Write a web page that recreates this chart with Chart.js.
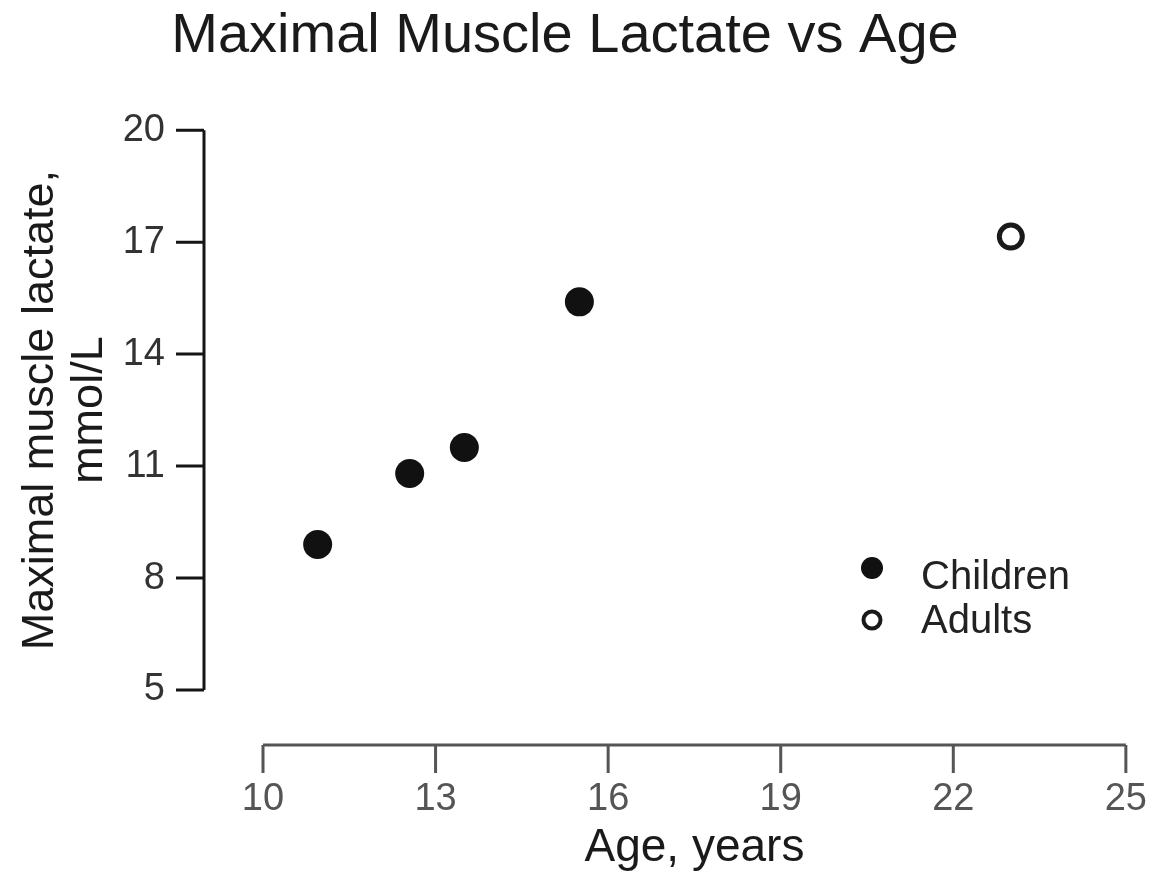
<!DOCTYPE html>
<html>
<head>
<meta charset="utf-8">
<title>Maximal Muscle Lactate vs Age</title>
<script src="https://cdn.jsdelivr.net/npm/chart.js@4/dist/chart.umd.min.js"></script>
<style>
  html, body { margin: 0; padding: 0; background: #fff; }
  #wrap { width: 1151px; height: 878px; }
</style>
</head>
<body>
<div id="wrap"><canvas id="lactateChart"></canvas></div>
<script>
const FONT = "'Liberation Sans', Arial, Helvetica, sans-serif";

const childAges = [10.95, 12.55, 13.5, 15.5];
const childLactate = [8.9, 10.8, 11.5, 15.4];
const adultAges = [23.0];
const adultLactate = [17.15];

const xTicks = [10, 13, 16, 19, 22, 25];
const yTicks = [5, 8, 11, 14, 17, 20];

const seriesNames = ['Children', 'Adults'];

function toPoints(xs, ys){
    return xs.map((x, i) => ({ x: x, y: ys[i] }));
}

// axes are drawn detached from the plot area, like a classic journal figure
const AXIS_GAP_Y = 59;   // y axis sits this far left of the plot area
const AXIS_GAP_X = 55;   // x axis sits this far below the plot area
const TICK_LEN = 28;

const detachedAxes = {
    id: 'detachedAxes',
    afterDraw(chart){
        const { ctx, chartArea, scales } = chart;
        const xs = scales.x, ys = scales.y;
        ctx.save();
        ctx.lineCap = 'butt';

        // y axis
        const ax = chartArea.left - AXIS_GAP_Y;
        ctx.strokeStyle = '#151515';
        ctx.lineWidth = 3;
        ctx.beginPath();
        ctx.moveTo(ax, ys.getPixelForValue(yTicks[0]));
        ctx.lineTo(ax, ys.getPixelForValue(yTicks[yTicks.length - 1]));
        yTicks.forEach(v => {
            const py = ys.getPixelForValue(v);
            ctx.moveTo(ax - TICK_LEN, py);
            ctx.lineTo(ax, py);
        });
        ctx.stroke();

        // x axis
        const ay = chartArea.bottom + AXIS_GAP_X;
        ctx.strokeStyle = '#555';
        ctx.beginPath();
        ctx.moveTo(xs.getPixelForValue(xTicks[0]), ay);
        ctx.lineTo(xs.getPixelForValue(xTicks[xTicks.length - 1]), ay);
        xTicks.forEach(v => {
            const px = xs.getPixelForValue(v);
            ctx.moveTo(px, ay);
            ctx.lineTo(px, ay + TICK_LEN);
        });
        ctx.stroke();
        ctx.restore();
    }
};

// small legend placed inside the plot, lower right
const innerLegend = {
    id: 'innerLegend',
    afterDraw(chart){
        const { ctx } = chart;
        const x0 = 872, y0 = 568, rowH = 52;
        ctx.save();
        chart.data.datasets.forEach((ds, i) => {
            const cy = y0 + i * rowH;
            ctx.beginPath();
            if(i === 0){
                ctx.arc(x0, cy, 11, 0, Math.PI * 2);
                ctx.fillStyle = ds.backgroundColor;
                ctx.fill();
            } else {
                ctx.arc(x0, cy, 8.5, 0, Math.PI * 2);
                ctx.fillStyle = '#fff';
                ctx.fill();
                ctx.lineWidth = 4;
                ctx.strokeStyle = ds.borderColor;
                ctx.stroke();
            }
            ctx.font = '40px ' + FONT;
            ctx.fillStyle = '#222';
            ctx.textAlign = 'left';
            ctx.textBaseline = 'middle';
            ctx.fillText(ds.label, 921, cy + (i === 0 ? 10 : 2));
        });
        ctx.restore();
    }
};

document.addEventListener('DOMContentLoaded', function(){
    const canvas = document.getElementById('lactateChart');
    new Chart(canvas, {
        type: 'scatter',
        data: {
            datasets: [
                {
                    label: seriesNames[0],
                    data: toPoints(childAges, childLactate),
                    pointRadius: 14.5,
                    pointHoverRadius: 14.5,
                    backgroundColor: '#111',
                    borderColor: '#111',
                    borderWidth: 0
                },
                {
                    label: seriesNames[1],
                    data: toPoints(adultAges, adultLactate),
                    pointRadius: 11.5,
                    pointHoverRadius: 11.5,
                    backgroundColor: '#fff',
                    borderColor: '#1a1a1a',
                    borderWidth: 5
                }
            ]
        },
        options: {
            responsive: true,
            maintainAspectRatio: false,
            animation: false,
            layout: { padding: { left: 2, right: 23, top: 0, bottom: 0 } },
            plugins: {
                legend: { display: false },
                tooltip: { enabled: false },
                title: {
                    display: true,
                    text: 'Maximal Muscle Lactate vs Age',
                    color: '#1a1a1a',
                    font: { family: FONT, size: 56, weight: 'normal', lineHeight: 1.2 },
                    padding: { top: 3, bottom: 60 }
                }
            },
            scales: {
                x: {
                    type: 'linear',
                    position: 'bottom',
                    min: xTicks[0],
                    max: xTicks[xTicks.length - 1],
                    afterBuildTicks: s => { s.ticks = xTicks.map(v => ({ value: v })); },
                    afterFit: s => { s.height = 188; },
                    border: { display: false },
                    grid: { display: true, drawOnChartArea: false, drawTicks: true, tickLength: AXIS_GAP_X + TICK_LEN, color: 'rgba(0,0,0,0)' },
                    ticks: { color: '#555', padding: 4, maxRotation: 0, font: { family: FONT, size: 38 } },
                    title: {
                        display: true,
                        text: 'Age, years',
                        color: '#1a1a1a',
                        font: { family: FONT, size: 46, lineHeight: 1.2 },
                        padding: { top: 0, bottom: 2 }
                    }
                },
                y: {
                    min: yTicks[0],
                    max: yTicks[yTicks.length - 1],
                    afterBuildTicks: s => { s.ticks = yTicks.map(v => ({ value: v })); },
                    afterFit: s => { s.width = 261; },
                    border: { display: false },
                    grid: { display: true, drawOnChartArea: false, drawTicks: true, tickLength: AXIS_GAP_Y + TICK_LEN + 1, color: 'rgba(0,0,0,0)' },
                    ticks: { color: '#333', padding: 10, font: { family: FONT, size: 38 } },
                    title: {
                        display: true,
                        text: ['Maximal muscle lactate,', 'mmol/L'],
                        color: '#1a1a1a',
                        font: { family: FONT, size: 45, lineHeight: 1.07 },
                        padding: { top: 15, bottom: 0 }
                    }
                }
            }
        },
        plugins: [detachedAxes, innerLegend]
    });
});
</script>
</body>
</html>
